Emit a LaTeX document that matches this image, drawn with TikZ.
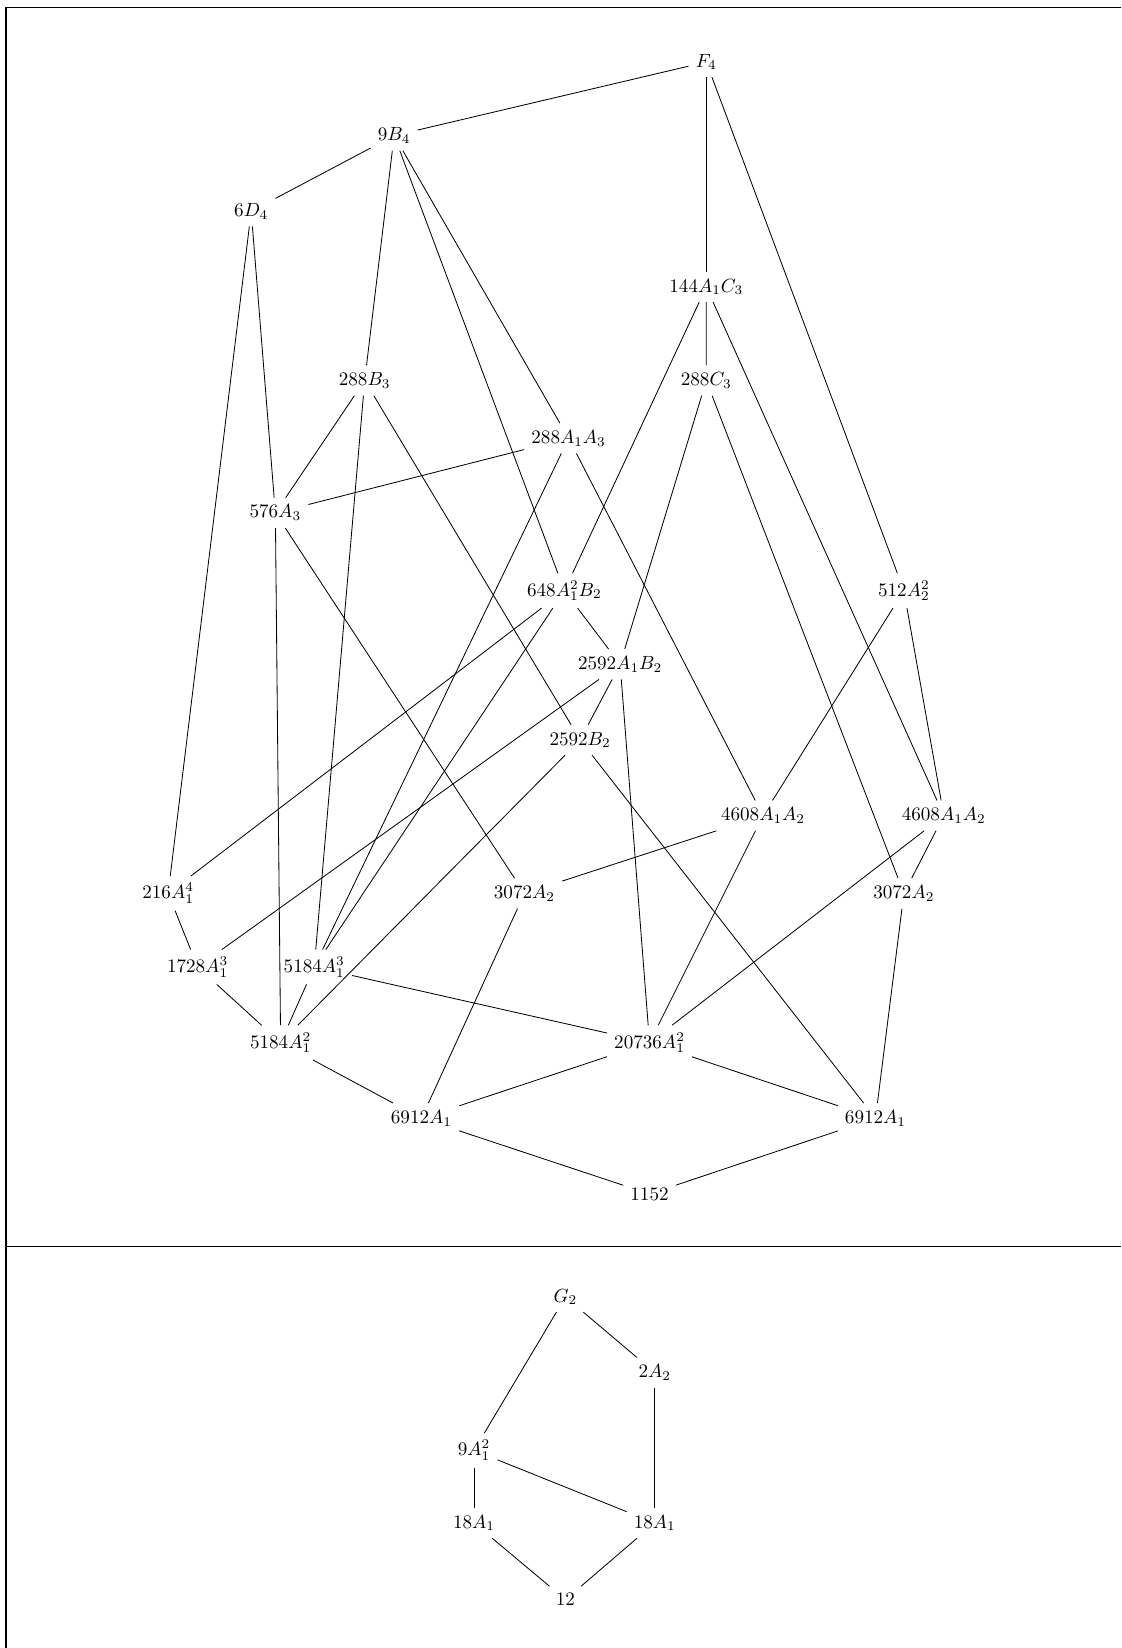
\documentclass[tikz,border=0pt]{standalone}
\begin{document}
\begin{tikzpicture}[x=0.5066pt,y=-0.5066pt,
  lbl/.style={inner sep=3.6pt,scale=0.92},
  edge/.style={line width=0.4pt},
  frame/.style={line width=0.8pt}]
\useasboundingbox (0,0) rectangle (1067,1568);
\draw[frame] (1067,7.1) -- (5.7,7.1) -- (5.7,1568);
\draw[frame] (5.7,1186) -- (1067,1186);
% upper lattice
\node[lbl] (F4) at (672,59) {$F_4$};
\node[lbl] (B4) at (375,129) {$9B_4$};
\node[lbl] (D4) at (239,201) {$6D_4$};
\node[lbl] (AC3) at (672,273) {$144A_1C_3$};
\node[lbl] (B3) at (347,362) {$288B_3$};
\node[lbl] (C3) at (672,362) {$288C_3$};
\node[lbl] (AA3) at (541,417) {$288A_1A_3$};
\node[lbl] (A3) at (262,488) {$576A_3$};
\node[lbl] (AAB2) at (537,562) {$648A_1^2B_2$};
\node[lbl] (A2sq) at (860,562) {$512A_2^2$};
\node[lbl] (AB2) at (590,632) {$2592A_1B_2$};
\node[lbl] (B2) at (552,704) {$2592B_2$};
\node[lbl] (AA2l) at (726,776) {$4608A_1A_2$};
\node[lbl] (AA2r) at (898,776) {$4608A_1A_2$};
\node[lbl] (A14) at (160,850) {$216A_1^4$};
\node[lbl] (A2m) at (499,850) {$3072A_2$};
\node[lbl] (A2r) at (860,850) {$3072A_2$};
\node[lbl] (A13a) at (188,920) {$1728A_1^3$};
\node[lbl] (A13b) at (299,920) {$5184A_1^3$};
\node[lbl] (A12a) at (267,992) {$5184A_1^2$};
\node[lbl] (A12b) at (618,992) {$20736A_1^2$};
\node[lbl] (A1l) at (401,1064) {$6912A_1$};
\node[lbl] (A1r) at (833,1064) {$6912A_1$};
\node[lbl] (E) at (618,1136) {$1152$};
\draw[edge] (F4) -- (B4);
\draw[edge] (F4) -- (AC3);
\draw[edge] (F4) -- (A2sq);
\draw[edge] (B4) -- (D4);
\draw[edge] (B4) -- (B3);
\draw[edge] (B4) -- (AAB2);
\draw[edge] (B4) -- (AA3);
\draw[edge] (D4) -- (A3);
\draw[edge] (D4) -- (A14);
\draw[edge] (AC3) -- (C3);
\draw[edge] (AC3) -- (AAB2);
\draw[edge] (AC3) -- (AA2r);
\draw[edge] (B3) -- (A3);
\draw[edge] (B3) -- (A13b);
\draw[edge] (B3) -- (B2);
\draw[edge] (C3) -- (AB2);
\draw[edge] (C3) -- (A2r);
\draw[edge] (AA3) -- (A3);
\draw[edge] (AA3) -- (A13b);
\draw[edge] (AA3) -- (AA2l);
\draw[edge] (A3) -- (A12a);
\draw[edge] (A3) -- (A2m);
\draw[edge] (AAB2) -- (A14);
\draw[edge] (AAB2) -- (A13b);
\draw[edge] (AAB2) -- (AB2);
\draw[edge] (A2sq) -- (AA2l);
\draw[edge] (A2sq) -- (AA2r);
\draw[edge] (AB2) -- (A13a);
\draw[edge] (AB2) -- (B2);
\draw[edge] (AB2) -- (A12b);
\draw[edge] (B2) -- (A12a);
\draw[edge] (B2) -- (A1r);
\draw[edge] (AA2l) -- (A2m);
\draw[edge] (AA2l) -- (A12b);
\draw[edge] (AA2r) -- (A12b);
\draw[edge] (AA2r) -- (A2r);
\draw[edge] (A14) -- (A13a);
\draw[edge] (A2m) -- (A1l);
\draw[edge] (A2r) -- (A1r);
\draw[edge] (A13a) -- (A12a);
\draw[edge] (A13b) -- (A12a);
\draw[edge] (A13b) -- (A12b);
\draw[edge] (A12a) -- (A1l);
\draw[edge] (A12b) -- (A1l);
\draw[edge] (A12b) -- (A1r);
\draw[edge] (A1l) -- (E);
\draw[edge] (A1r) -- (E);
% lower lattice
\node[lbl] (G2) at (538,1234) {$G_2$};
\node[lbl] (gA2) at (623,1306) {$2A_2$};
\node[lbl] (gA1sq) at (451,1380) {$9A_1^2$};
\node[lbl] (gA1l) at (451,1449) {$18A_1$};
\node[lbl] (gA1r) at (623,1449) {$18A_1$};
\node[lbl] (gE) at (538,1522) {$12$};
\draw[edge] (G2) -- (gA2);
\draw[edge] (G2) -- (gA1sq);
\draw[edge] (gA2) -- (gA1r);
\draw[edge] (gA1sq) -- (gA1l);
\draw[edge] (gA1sq) -- (gA1r);
\draw[edge] (gA1l) -- (gE);
\draw[edge] (gA1r) -- (gE);
\end{tikzpicture}
\end{document}
